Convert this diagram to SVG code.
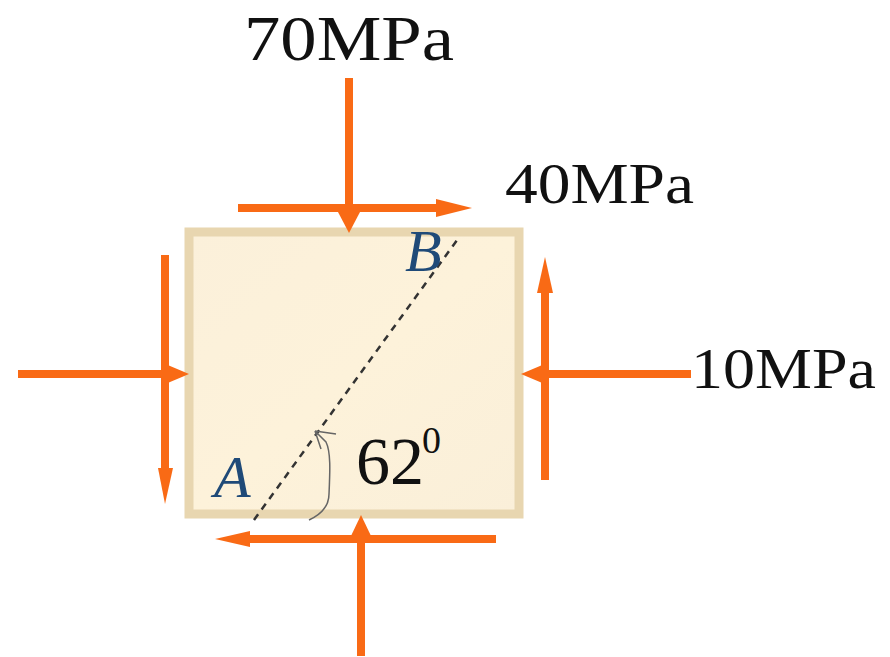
<svg xmlns="http://www.w3.org/2000/svg" width="890" height="657" viewBox="0 0 890 657">
<defs>
<linearGradient id="fill" x1="0" y1="0" x2="1" y2="1"><stop offset="0" stop-color="#fbf0da"/><stop offset="0.5" stop-color="#fdf2da"/><stop offset="1" stop-color="#faefd9"/></linearGradient>
</defs>
<style>
.ar{fill:none;stroke:#f96a15;stroke-width:8}
.hd{fill:#f96a15}
.t{font-family:"Liberation Serif",serif;fill:#111111}
.l{font-family:"Liberation Serif",serif;font-style:italic;fill:#1f4a78;font-size:60px}
</style>
<rect width="890" height="657" fill="#ffffff"/>
<g id="plate"><rect x="189" y="232" width="330" height="282" fill="url(#fill)" stroke="#e8d6b0" stroke-width="9"/></g>
<g id="connectors">
<path class="ar" d="M349 78V212"/><path class="hd" d="M338 212H360L349 233Z"/>
<path class="ar" d="M238 208H440"/><path class="hd" d="M436 199L472 208L436 217Z"/>
<path class="ar" d="M18 374H165"/><path class="hd" d="M163 363L189 374L163 385Z"/>
<path class="ar" d="M165 255V472"/><path class="hd" d="M158 468H173L165 504Z"/>
<path class="ar" d="M545 290V480"/><path class="hd" d="M537 293H553L545 257Z"/>
<path class="ar" d="M545 374H691"/><path class="hd" d="M547 363L521 374L547 385Z"/>
<path class="ar" d="M248 539H496"/><path class="hd" d="M250 531V547L215 539Z"/>
<path class="ar" d="M361 536V656"/><path class="hd" d="M350 538H372L361 515Z"/>
<path d="M254 520L460 236" fill="none" stroke="#333333" stroke-width="2.5" stroke-dasharray="7 6"/>
<path d="M309 520C322 514 329 506 329 494C330 472 331 452 326 442L315 431M315 431L336 434M315 431L321 449" fill="none" stroke="#666666" stroke-width="1.5"/>
</g>
<g id="labels">
<text class="t" x="244" y="60" font-size="64" textLength="210" lengthAdjust="spacingAndGlyphs">70MPa</text>
<text class="t" x="505" y="203" font-size="58" textLength="189" lengthAdjust="spacingAndGlyphs">40MPa</text>
<text class="t" x="691" y="388" font-size="58" textLength="185" lengthAdjust="spacingAndGlyphs">10MPa</text>
<text class="t" x="356" y="484" font-size="68">62</text>
<text class="t" x="422" y="453" font-size="38">0</text>
<text class="l" x="405" y="271">B</text>
<text class="l" x="214" y="497">A</text>
</g>
</svg>
